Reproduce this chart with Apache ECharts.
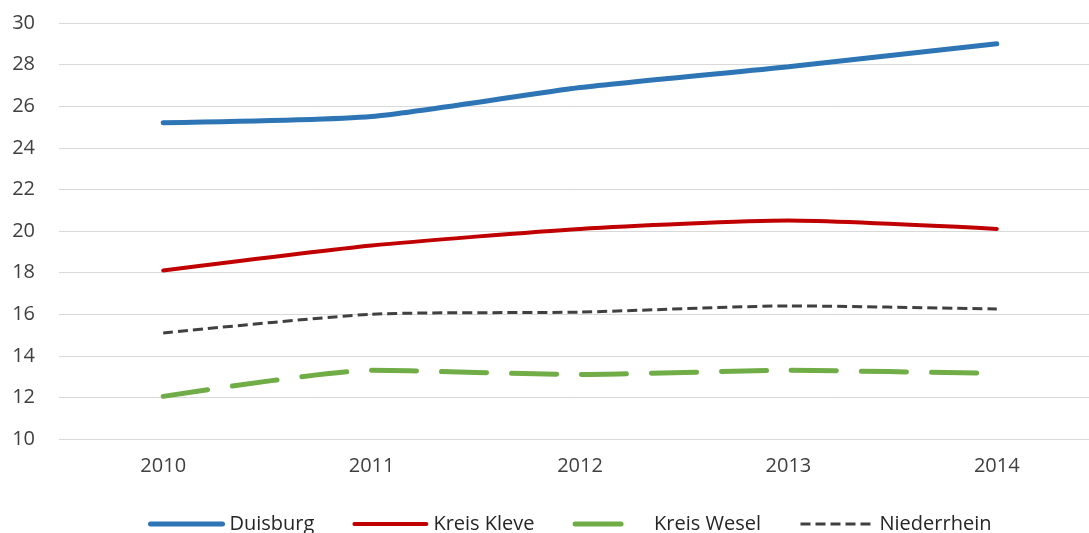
<!DOCTYPE html>
<html>
<head>
<meta charset="utf-8">
<script src="https://cdn.jsdelivr.net/npm/echarts@6/dist/echarts.min.js"></script>
<style>
  html, body { margin: 0; padding: 0; background: #fff; }
  #chart { width: 1089px; height: 533px; }
</style>
</head>
<body>
<div id="chart"></div>
<script>
var years = ["2010", "2011", "2012", "2013", "2014"];
var duisburg = [25.2, 25.5, 26.9, 27.9, 29.0];
var kreisKleve = [18.1, 19.3, 20.1, 20.5, 20.1];
var kreisWesel = [12.05, 13.3, 13.1, 13.3, 13.15];
var niederrhein = [15.1, 16.0, 16.1, 16.4, 16.25];

var font = "Open Sans";
var chart = echarts.init(document.getElementById("chart"));

function lineSeries(name, data, color, width, dash, cap) {
    return {
        name: name,
        type: "line",
        data: data,
        smooth: 0.2,
        symbol: "circle",
        showSymbol: false,
        lineStyle: { color: color, width: width, type: dash, cap: cap || "round" },
        itemStyle: { color: color }
    };
}

var option = {
    animation: false,
    grid: { left: 59, width: 1042, top: 23, bottom: 94, outerBoundsMode: "none", containLabel: false },
    legend: {
        bottom: -6,
        left: 143,
        itemWidth: 72,
        itemHeight: 12,
        itemGap: 38,
        itemStyle: { opacity: 0 },
        textStyle: { fontFamily: font, fontSize: 20, color: "#262626", padding: [0, 0, 0, 2] },
        data: [
            { name: "Duisburg", lineStyle: { width: 5 } },
            { name: "Kreis Kleve", lineStyle: { width: 4 } },
            { name: "Kreis Wesel", lineStyle: { width: 5, type: [46, 30] } },
            { name: "Niederrhein", lineStyle: { width: 3 } }
        ]
    },
    xAxis: {
        type: "category",
        data: years,
        boundaryGap: true,
        axisLine: { show: false },
        axisTick: { show: false },
        axisLabel: { fontFamily: font, fontSize: 20, color: "#404040", margin: 17 }
    },
    yAxis: {
        type: "value",
        min: 10,
        max: 30,
        interval: 2,
        axisLine: { show: false },
        axisTick: { show: false },
        splitLine: { lineStyle: { color: "#d9d9d9", width: 1 } },
        axisLabel: { fontFamily: font, fontSize: 20, color: "#404040", margin: 24 }
    },
    series: [
        lineSeries("Duisburg", duisburg, "#2e75b6", 5, "solid"),
        lineSeries("Kreis Kleve", kreisKleve, "#c00000", 4, "solid"),
        lineSeries("Kreis Wesel", kreisWesel, "#70ad47", 5, [45, 25]),
        lineSeries("Niederrhein", niederrhein, "#404040", 3, [10, 5], "butt")
    ]
};

chart.setOption(option);
</script>
</body>
</html>
